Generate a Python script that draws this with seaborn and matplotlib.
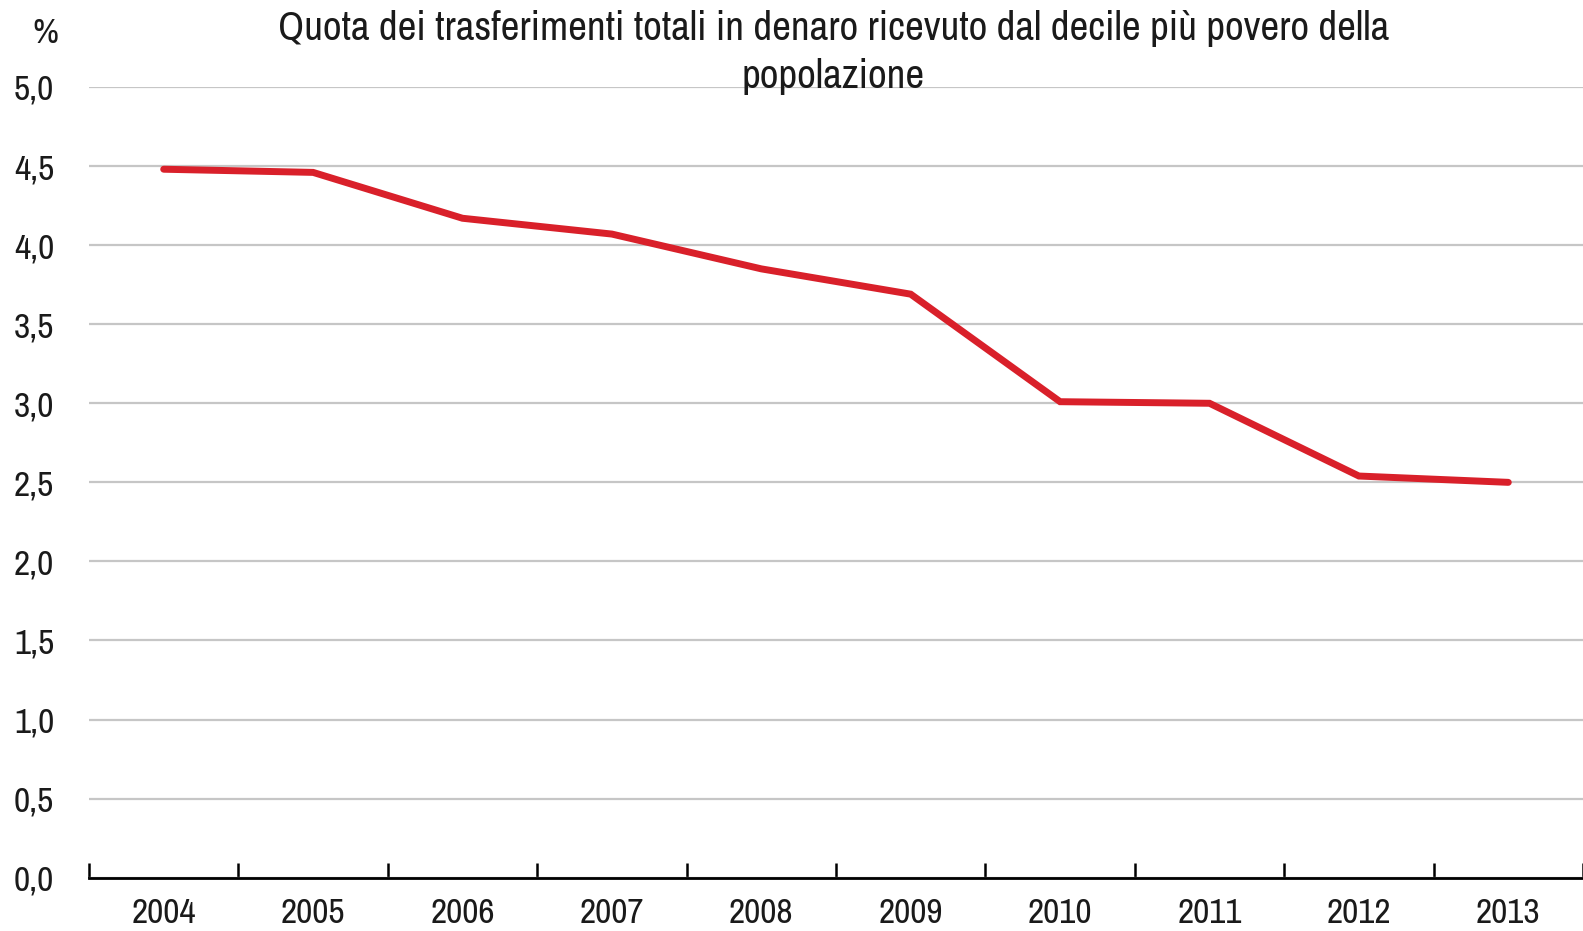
import pandas as pd
import matplotlib.pyplot as plt
import matplotlib.ticker as mticker
import seaborn as sns

# Dati
anni = ['2004', '2005', '2006', '2007', '2008', '2009', '2010', '2011', '2012', '2013']
quota = [4.48, 4.46, 4.17, 4.07, 3.85, 3.69, 3.01, 3.00, 2.54, 2.50]
titolo = ['Quota dei trasferimenti totali in denaro ricevuto dal decile più povero della',
          'popolazione']

df = pd.DataFrame({'anno': anni, 'quota': quota})

sns.set_style('white')
plt.rcParams['font.family'] = ['Archivo Narrow', 'Liberation Sans', 'DejaVu Sans']

W, H = 1583, 931
fig = plt.figure(figsize=(W / 100, H / 100), dpi=100)
ax = fig.add_axes([89 / W, 1 - 877.7 / H, 1 - 89 / W, (877.7 - 87) / H])

sns.lineplot(data=df, x='anno', y='quota', ax=ax, color='#d9202a',
             linewidth=5, solid_capstyle='round', solid_joinstyle='miter', sort=False)

ax.set_ylim(0, 5)
ax.set_xlim(-0.5, len(anni) - 0.5)
ax.yaxis.set_major_locator(mticker.MultipleLocator(0.5))
ax.yaxis.set_major_formatter(mticker.FuncFormatter(lambda v, p: f'{v:.1f}'.replace('.', ',')))
ax.grid(axis='y', color='#c6c6c6', linewidth=1.6)
ax.set_axisbelow(True)

# tacche tra le categorie, etichette al centro
ax.set_xticks([i - 0.5 for i in range(len(anni) + 1)])
ax.set_xticklabels([])
ax.set_xticks(range(len(anni)), minor=True)
ax.set_xticklabels(anni, minor=True)
ax.tick_params(axis='x', which='major', bottom=True, direction='in', length=11, width=1.8, color='black')
ax.tick_params(axis='x', which='minor', bottom=True, length=0, pad=14, labelsize=25.5, colors='#1a1a1a')
ax.tick_params(axis='y', length=0, pad=25, labelsize=25.5, colors='#1a1a1a')

for s in ['top', 'right', 'left']:
    ax.spines[s].set_visible(False)
ax.spines['bottom'].set_color('black')
ax.spines['bottom'].set_linewidth(2)

ax.set_xlabel('')
ax.set_ylabel('')

fig.text(45 / W, 1 - 43 / H, '%', ha='center', va='baseline', fontsize=25.5, color='#1a1a1a')
fig.text(833.5 / W, 1 - 40 / H, titolo[0], ha='center', va='baseline', fontsize=29.5, color='#1a1a1a')
fig.text(833.5 / W, 1 - 88 / H, titolo[1], ha='center', va='baseline', fontsize=29.5, color='#1a1a1a')

fig.savefig('out.png', dpi=100)
